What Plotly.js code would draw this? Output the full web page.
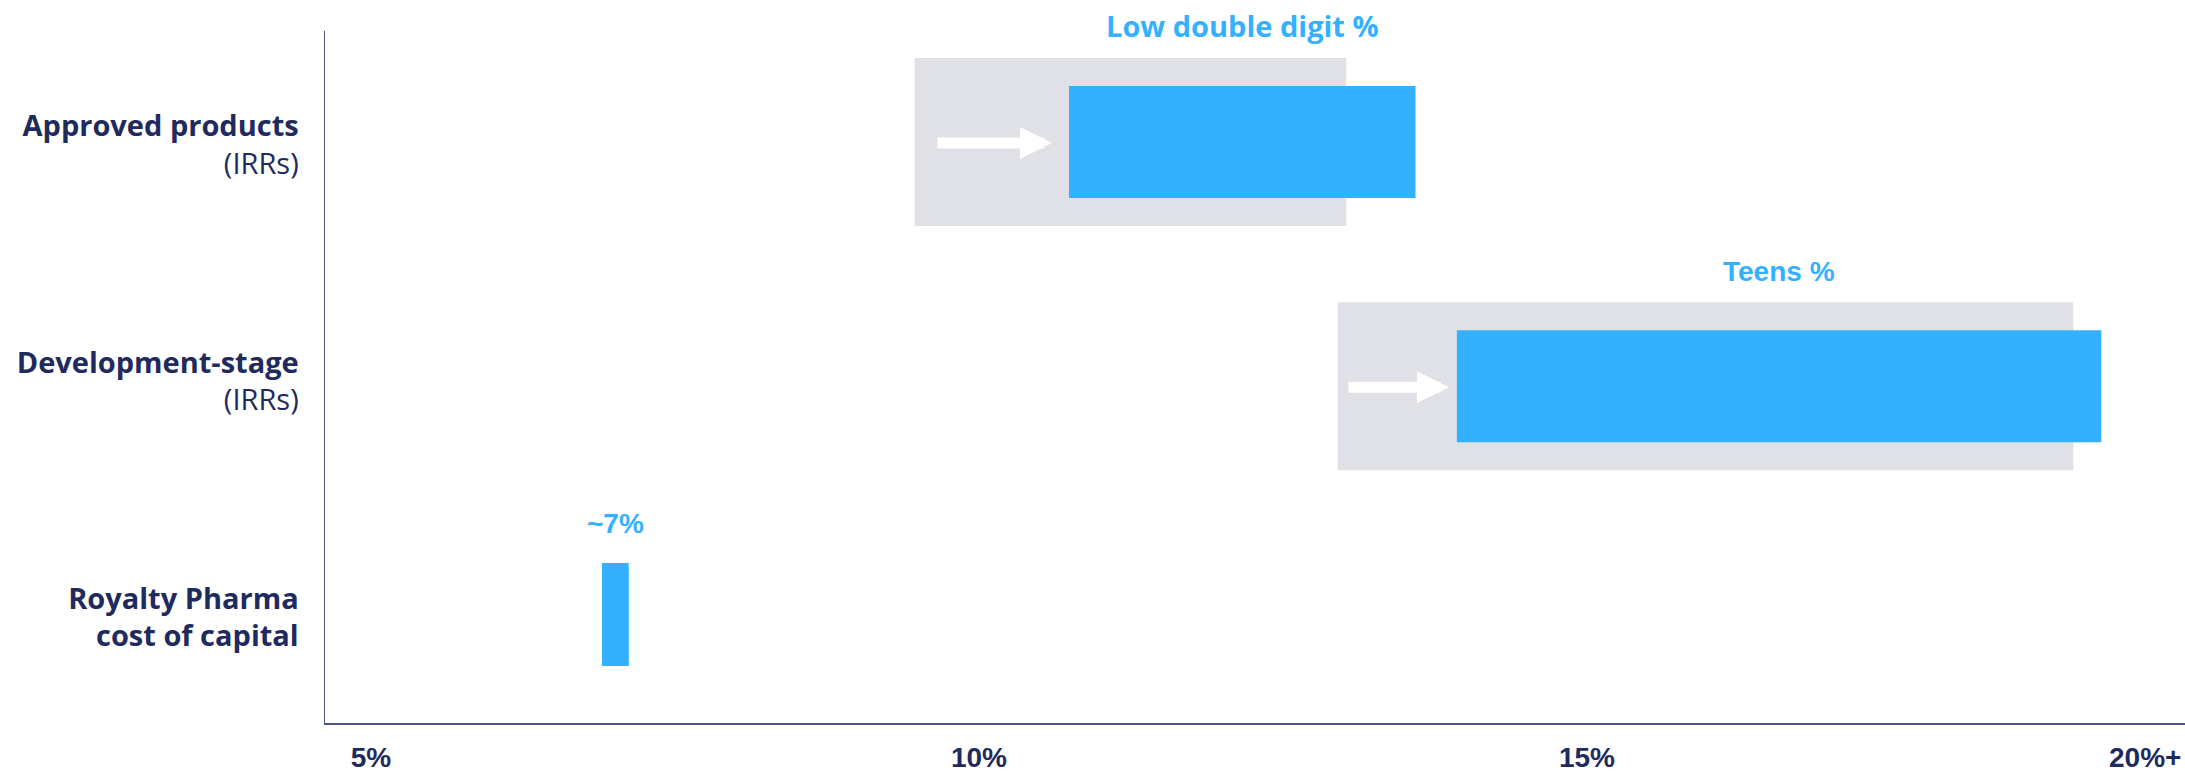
<!DOCTYPE html>
<html>
<head>
<meta charset="utf-8">
<script src="https://cdn.plot.ly/plotly-3.0.1.min.js"></script>
<style>html,body{margin:0;padding:0;background:#fff;}#chart{width:2185px;height:772px;}</style>
</head>
<body>
<div id="chart"></div>
<script>
// ---- data ----
const categories = ['Approved products', 'Development-stage', 'Royalty Pharma cost of capital'];
const categoryLabels = [
  '<b>Approved products</b><br>(IRRs)',
  '<b>Development-stage</b><br>(IRRs)',
  '<b>Royalty Pharma</b><br><b>cost of capital</b>'
];
const rangeCategories = ['Approved products', 'Development-stage'];
const priorLow = [9.47, 12.95];     // grey band start (%)
const priorHigh = [13.02, 19.0];    // grey band end (%)
const currentLow = [10.74, 13.93];  // blue bar start (%)
const currentHigh = [13.59, 19.23]; // blue bar end (%)
const rangeLabels = ['Low double digit %', 'Teens %'];
const costCategory = ['Royalty Pharma cost of capital'];
const costLow = [6.9];
const costHigh = [7.12];
const costLabel = ['~7%'];
const xTickVals = [5, 10, 15];
const xTickText = ['5%', '10%', '15%'];
const lastTickText = '20%+';

// ---- styles ----
const NAVY = '#1f2a5e';
const BLUE = '#33b1ff';
const GREY = '#e0e1e6';
const AXIS = '#4f5581';

const traces = [
  {
    type: 'bar', orientation: 'h', y: rangeCategories,
    base: priorLow, x: priorLow.map((v, i) => priorHigh[i] - v),
    width: 0.711, offset: [-0.368, -0.334],
    marker: {color: GREY}, hoverinfo: 'skip'
  },
  {
    type: 'bar', orientation: 'h', y: rangeCategories,
    base: currentLow, x: currentLow.map((v, i) => currentHigh[i] - v),
    width: 0.474, offset: [-0.250, -0.216],
    marker: {color: BLUE}, hoverinfo: 'skip'
  },
  {
    type: 'bar', orientation: 'h', y: costCategory,
    base: costLow, x: costLow.map((v, i) => costHigh[i] - v),
    width: 0.436, offset: [-0.231],
    marker: {color: BLUE}, hoverinfo: 'skip'
  }
];

const annotations = [];
const labelShift = [119, 110];
const arrowShift = [2, -6];
const arrowTail = [-133, -110];
const arrowStand = [17, 8];
rangeCategories.forEach((c, i) => {
  annotations.push({
    x: (currentLow[i] + currentHigh[i]) / 2, y: c, xref: 'x', yref: 'y',
    text: '<b>' + rangeLabels[i] + '</b>', showarrow: false,
    yanchor: 'middle', yshift: labelShift[i],
    font: {family: i === 0 ? 'Open Sans' : 'Liberation Sans', size: i === 0 ? 29 : 28, color: BLUE}
  });
  annotations.push({
    x: currentLow[i], y: c, xref: 'x', yref: 'y',
    text: '', showarrow: true, axref: 'pixel', ayref: 'pixel',
    ax: arrowTail[i], ay: 0, yshift: arrowShift[i],
    arrowhead: 2, arrowsize: 0.58, arrowwidth: 11, arrowcolor: '#ffffff',
    standoff: arrowStand[i]
  });
});
costCategory.forEach((c, i) => {
  annotations.push({
    x: (costLow[i] + costHigh[i]) / 2, y: c, xref: 'x', yref: 'y',
    text: '<b>' + costLabel[i] + '</b>', showarrow: false,
    yanchor: 'middle', yshift: 94,
    font: {family: 'Liberation Sans', size: 28, color: BLUE}
  });
});
annotations.push({
  x: 1, y: 0, xref: 'paper', yref: 'paper', xanchor: 'right', yanchor: 'middle',
  xshift: -2, yshift: -34, height: 30, valign: 'middle',
  text: '<b>' + lastTickText + '</b>', showarrow: false,
  font: {family: 'Liberation Sans', size: 28, color: NAVY}
});

const layout = {
  width: 2185, height: 772,
  margin: {l: 325, r: 0, t: 31, b: 49, pad: 0},
  paper_bgcolor: '#ffffff', plot_bgcolor: '#ffffff',
  barmode: 'overlay', showlegend: false,
  xaxis: {
    range: [4.622, 19.918], tickvals: xTickVals,
    ticktext: xTickText.map(t => '<b>' + t + '</b>'),
    showgrid: false, zeroline: false, showline: true,
    linecolor: AXIS, linewidth: 1.5, ticks: '',
    ticklabelstandoff: 9,
    tickfont: {family: 'Liberation Sans', size: 28, color: NAVY}
  },
  yaxis: {
    type: 'category', categoryarray: categories,
    range: [2.4466, -0.4825],
    tickvals: categories, ticktext: categoryLabels,
    showgrid: false, zeroline: false, showline: true,
    linecolor: AXIS, linewidth: 1.5, ticks: '',
    ticklabelstandoff: 19,
    tickfont: {family: 'Open Sans', size: 29, color: NAVY}
  },
  annotations: annotations
};

Plotly.newPlot('chart', traces, layout, {displayModeBar: false, staticPlot: true});
</script>
</body>
</html>
